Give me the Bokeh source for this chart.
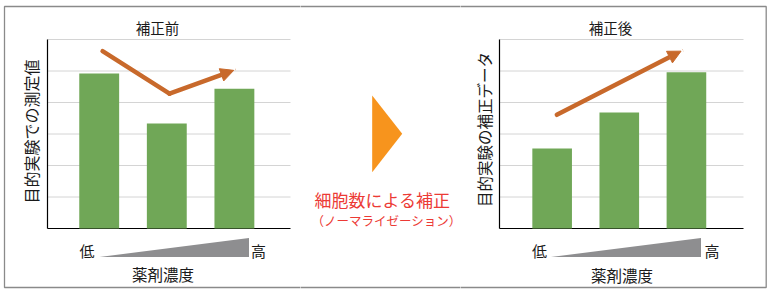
import numpy as np
from bokeh.plotting import figure
from bokeh.layouts import row
from bokeh.models import Range1d, Label, PolyAnnotation, Arrow, NormalHead
from bokeh.embed import file_html
from bokeh.resources import INLINE

FONT = "Noto Sans CJK JP"

# ---------------- data ----------------
positions = [1, 2, 3]                      # drug concentration: low -> high
before_values = [4.92, 3.33, 4.44]         # 補正前
after_values = [2.54, 3.68, 4.96]          # 補正後
grid_values = [1, 2, 3, 4, 5, 6]
before_trend_x = [1.05, 2.04, 2.99]
before_trend_y = [5.63, 4.28, 5.02]
after_trend_x = [1.07, 2.92]
after_trend_y = [3.61, 5.63]
titles = ["補正前", "補正後"]
ylabels = ["目的実験での測定値", "目的実験の補正データ"]
xlabel = "薬剤濃度"
low_label, high_label = "低", "高"
middle_title = "細胞数による補正"
middle_sub = "（ノーマライゼーション）"

# ---------------- style / layout ----------------
GREEN = "#70a757"
ARROW = "#c8692b"
ORANGE = "#f7941d"
RED = "#ec3a35"
GRID = "#d4d4d4"
FRAME = "#8a8a8a"
WEDGE = "#8e8e90"
TEXT = "#1a1a1a"
H = 293
PLOT_T, PLOT_B = 39, 228          # page pixels of value 6 and value 0
Y0, Y1 = 0, 6
FRAME_TOP, FRAME_BOT = 6, 287


def make_chart(page_off, width, plot_l, plot_r, x0, x1, values, tx, ty, title, ylabel, pos, frame_edge, side):
    kx = (x1 - x0) / (plot_r - plot_l)
    ky = (Y1 - Y0) / (PLOT_B - PLOT_T)

    def dx(px):
        return x0 + (px - plot_l) * kx

    def dy(py):
        return Y0 + (PLOT_B - py) * ky

    p = figure(width=width, height=H, output_backend="svg", toolbar_location=None,
               x_range=Range1d(dx(page_off), dx(page_off + width)),
               y_range=Range1d(dy(H), dy(0)),
               x_axis_location=None, y_axis_location=None,
               min_border=0, min_border_left=0, min_border_right=0,
               min_border_top=0, min_border_bottom=0)
    p.outline_line_color = None
    p.grid.visible = False
    p.background_fill_color = "white"
    p.border_fill_color = "white"

    # grid lines and axis lines, in data units
    p.segment(x0=x0, x1=x1, y0=grid_values, y1=grid_values, line_color=GRID, line_width=1)
    p.segment(x0=[x0, x0], y0=[Y0, Y0], x1=[x1, x0], y1=[Y0, Y1], line_color="black", line_width=1.2)

    p.vbar(x=positions, top=values, width=0.59, fill_color=GREEN, line_color=None)

    p.line(tx[:-1], ty[:-1], line_color=ARROW, line_width=4.5, line_cap="round", line_join="round")
    p.add_layout(Arrow(x_start=tx[-2], y_start=ty[-2], x_end=tx[-1], y_end=ty[-1],
                       line_color=ARROW, line_width=4.5, line_cap="round",
                       end=NormalHead(size=13, fill_color=ARROW, line_color=ARROW, line_width=1)))

    def lab(text, xy, size, angle=0.0, color=TEXT):
        p.add_layout(Label(x=dx(xy[0]), y=dy(xy[1]), text=text, text_font=FONT,
                           text_font_size=size, text_color=color, angle=angle,
                           text_align="center", text_baseline="middle"))

    lab(title, pos["title"], "14.5px")
    lab(ylabel, pos["ylabel"], pos["ysize"], angle=np.pi / 2)
    lab(low_label, pos["low"], "15px")
    lab(high_label, pos["high"], "15px")
    lab(xlabel, pos["xlabel"], "15.5px")

    wx = [dx(v[0]) for v in pos["wedge"]]
    wy = [dy(v[1]) for v in pos["wedge"]]
    p.patch(wx, wy, fill_color=WEDGE, line_color=None)

    far = page_off + width + 20 if side == "left" else page_off - 20
    fx = [dx(far), dx(frame_edge), dx(frame_edge), dx(far)]
    fy = [dy(FRAME_TOP), dy(FRAME_TOP), dy(FRAME_BOT), dy(FRAME_BOT)]
    p.line(fx, fy, line_color=FRAME, line_width=1.3)
    return p


left = make_chart(0, 300, 47, 290, 0.235, 3.83, before_values, before_trend_x, before_trend_y,
                  titles[0], ylabels[0],
                  dict(title=(157, 26.5), ylabel=(30, 131), ysize="16px", low=(86.5, 249.5),
                       high=(258, 249.5), xlabel=(162.5, 273.5),
                       wedge=[(99, 256.5), (248.5, 237.5), (248.5, 256.5)]),
                  4, "left")

right = make_chart(460, 310, 499, 743, 0.216, 3.85, after_values, after_trend_x, after_trend_y,
                   titles[1], ylabels[1],
                   dict(title=(610, 26.5), ylabel=(483, 129), ysize="15.5px", low=(539, 250),
                        high=(711.5, 250), xlabel=(621.5, 274.5),
                        wedge=[(550.5, 256.5), (700.5, 237.5), (700.5, 256.5)]),
                   765.7, "right")

mid = figure(width=160, height=H, output_backend="svg", toolbar_location=None,
             x_range=Range1d(300, 460), y_range=Range1d(H, 0),
             x_axis_location=None, y_axis_location=None,
             min_border=0, min_border_left=0, min_border_right=0, min_border_top=0, min_border_bottom=0)
mid.grid.visible = False
mid.outline_line_color = None
mid.segment(x0=[290, 290], y0=[FRAME_TOP, FRAME_BOT], x1=[470, 470], y1=[FRAME_TOP, FRAME_BOT],
            line_color=FRAME, line_width=1.3)
mid.patch([371.7, 401.7, 371.7], [95, 133.3, 171.7], fill_color=ORANGE, line_color=None)
mid.add_layout(Label(x=382, y=199, text=middle_title, text_font=FONT, text_font_size="17px",
                     text_color=RED, text_align="center", text_baseline="middle"))
mid.add_layout(Label(x=386, y=220, text=middle_sub, text_font=FONT, text_font_size="12.5px",
                     text_color=RED, text_align="center", text_baseline="middle"))

layout = row(left, mid, right, spacing=0)
open("out.html", "w").write(file_html(layout, INLINE))
